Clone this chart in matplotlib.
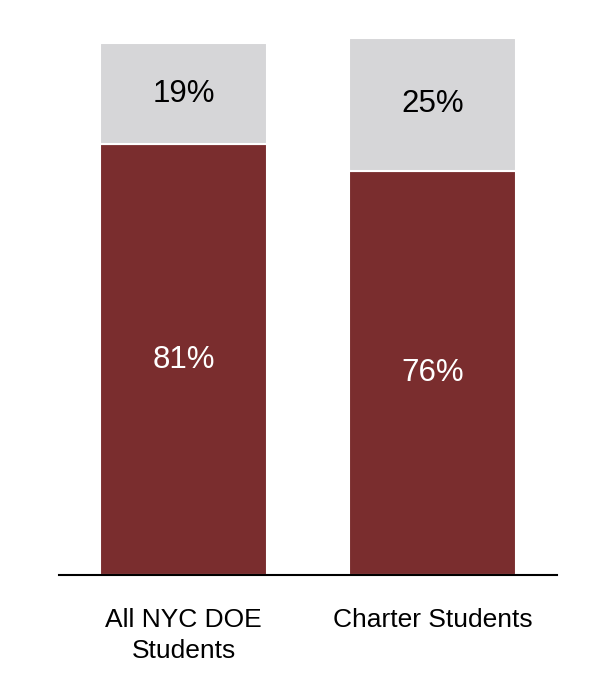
import matplotlib
matplotlib.use("Agg")
import matplotlib.pyplot as plt

categories = ["All NYC DOE\nStudents", "Charter Students"]
lower_share = [81, 76]   # dark red segment (%)
upper_share = [19, 25]   # light gray segment (%)

dark_red = "#7A2D2E"
light_gray = "#D6D6D8"

plt.rcParams["font.family"] = ["Liberation Sans", "DejaVu Sans"]

fig = plt.figure(figsize=(5.96, 6.78), dpi=100)
ax = fig.add_axes([59 / 596, 103 / 678, 498 / 596, 532 / 678])

x = list(range(len(categories)))
width = 0.667

bars_low = ax.bar(x, lower_share, width=width, color=dark_red,
                  edgecolor="white", linewidth=1.5, clip_on=False, zorder=2)
bars_up = ax.bar(x, upper_share, width=width, bottom=lower_share,
                 color=light_gray, edgecolor="white", linewidth=1.5,
                 clip_on=False, zorder=2)

for xi, lo, up in zip(x, lower_share, upper_share):
    ax.text(xi, lo / 2, f"{lo}%", ha="center", va="center",
            color="white", fontsize=22.5)
    ax.text(xi, lo + up / 2, f"{up}%", ha="center", va="center",
            color="black", fontsize=22.5)

ax.set_xlim(-0.5, 1.5)
ax.set_ylim(0, 100)
ax.set_yticks([])
ax.set_xticks(x)
ax.set_xticklabels(categories, fontsize=19, linespacing=1.38, va="top")
ax.tick_params(axis="x", length=0, pad=23.5)

for side in ["top", "right", "left"]:
    ax.spines[side].set_visible(False)
ax.spines["bottom"].set_linewidth(1.5)
ax.spines["bottom"].set_color("black")
ax.spines["bottom"].set_zorder(3)

fig.savefig("out.png", dpi=100, facecolor="white")
